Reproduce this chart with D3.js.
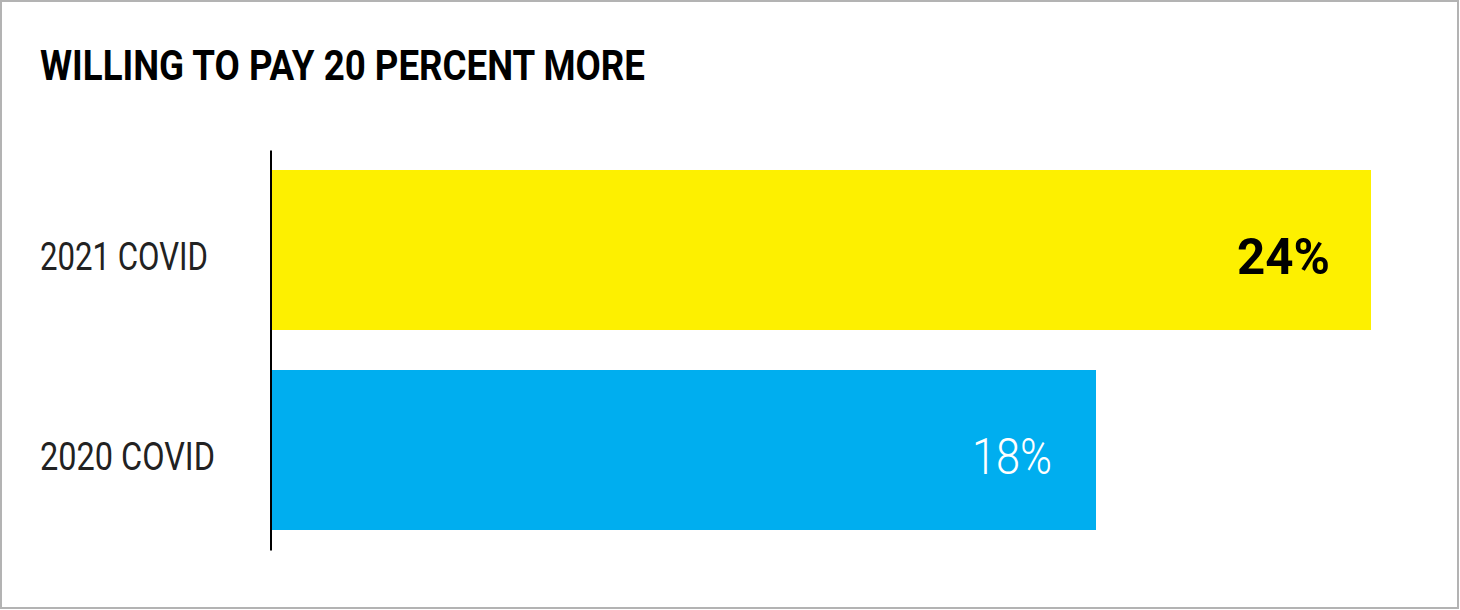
<!DOCTYPE html>
<html>
<head>
<meta charset="utf-8">
<script src="https://cdn.jsdelivr.net/npm/d3@7"></script>
<style>
  html, body { margin: 0; padding: 0; background: #fff; }
  svg { display: block; }
  text { font-family: "Liberation Sans Narrow", "Roboto", "Liberation Sans", sans-serif; }
</style>
</head>
<body>
<svg id="chart" width="1460" height="610"></svg>
<script>
const title = "WILLING TO PAY 20 PERCENT MORE";
const categories = ["2021 COVID", "2020 COVID"];
const values = [24, 18];
const valueLabels = ["24%", "18%"];
const colors = ["#fdf000", "#00aeef"];

const W = 1460, H = 610;
const svg = d3.select("#chart");

// border
svg.append("rect")
  .attr("x", 1).attr("y", 1).attr("width", W - 3).attr("height", H - 3)
  .attr("fill", "#fff").attr("stroke", "#b3b3b3").attr("stroke-width", 2);

// title
svg.append("text")
  .attr("x", 40).attr("y", 80)
  .attr("font-size", 42).attr("font-weight", 700).attr("fill", "#000")
  .attr("textLength", 605).attr("lengthAdjust", "spacingAndGlyphs")
  .text(title);

const x0 = 271;
const x = d3.scaleLinear().domain([0, 24]).range([x0, 1371]);
const y = d3.scaleBand().domain(categories).range([150, 550]).paddingInner(0.2).paddingOuter(0.1);

const g = svg.append("g");

g.selectAll("rect.bar").data(categories).join("rect")
  .attr("class", "bar")
  .attr("x", x(0))
  .attr("y", d => y(d))
  .attr("width", (d, i) => x(values[i]) - x(0))
  .attr("height", y.bandwidth())
  .attr("fill", (d, i) => colors[i]);

// axis line
const axis = d3.axisLeft(y).tickSize(0).tickFormat("");
const ax = svg.append("g").attr("transform", `translate(${x0 - 0.5},0)`).call(axis);
ax.select(".domain").attr("stroke", "#000").attr("stroke-width", 2);

// category labels
const catWidths = [168, 175];
svg.selectAll("text.cat").data(categories).join("text")
  .attr("class", "cat")
  .attr("x", 40)
  .attr("y", d => y(d) + y.bandwidth() / 2 + 20)
  .attr("font-size", 38).attr("fill", "#222")
  .attr("textLength", (d, i) => catWidths[i]).attr("lengthAdjust", "spacingAndGlyphs")
  .text(d => d);

// value labels
const valWidths = [93, 80];
const valOffsets = [41, 44];
svg.selectAll("text.val").data(categories).join("text")
  .attr("class", "val")
  .attr("x", (d, i) => x(values[i]) - valOffsets[i] - valWidths[i])
  .attr("y", d => y(d) + y.bandwidth() / 2 + 24)
  .attr("font-size", 50)
  .attr("font-weight", (d, i) => i === 0 ? 700 : 300)
  .attr("fill", (d, i) => i === 0 ? "#000" : "#fff")
  .attr("textLength", (d, i) => valWidths[i]).attr("lengthAdjust", "spacingAndGlyphs")
  .text((d, i) => valueLabels[i]);
</script>
</body>
</html>
